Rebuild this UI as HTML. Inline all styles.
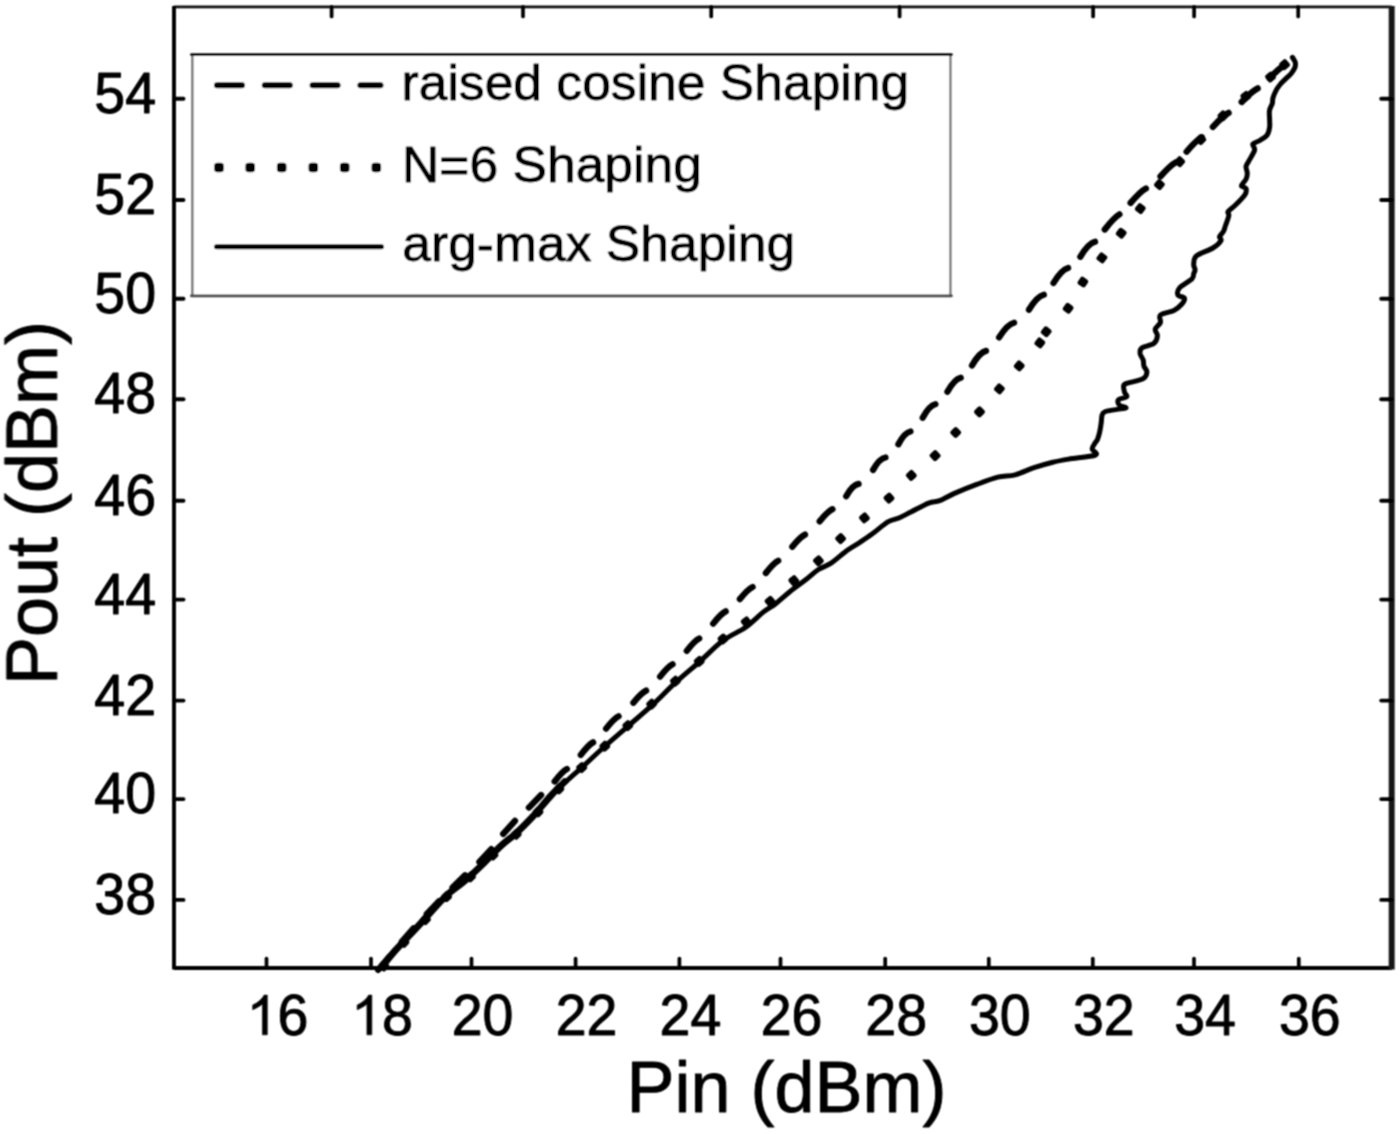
<!DOCTYPE html>
<html><head><meta charset="utf-8"><title>Pout vs Pin</title>
<style>html,body{margin:0;padding:0;background:#fff;overflow:hidden;}svg{display:block;}</style></head>
<body>
<svg width="1400" height="1134" viewBox="0 0 1400 1134">
<defs><filter id="bl" x="0" y="0" width="1400" height="1134" filterUnits="userSpaceOnUse"><feConvolveMatrix order="3" kernelMatrix="1 2 1 2 4 2 1 2 1" divisor="16" edgeMode="duplicate" preserveAlpha="false"/></filter></defs>
<rect width="1400" height="1134" fill="#fff"/>
<g filter="url(#bl)">
<path d="M382.0,968.0C384.3,965.2 391.3,956.3 396.0,951.0C400.7,945.7 405.2,941.2 410.0,936.0C414.8,930.8 419.0,926.5 425.0,920.0C431.0,913.5 439.6,903.3 446.2,897.0C452.8,890.7 458.5,887.5 464.7,882.2C470.9,876.9 477.0,871.0 483.2,865.0C489.4,859.0 496.1,851.5 501.7,846.4C507.2,841.2 511.1,839.0 516.5,834.1C521.9,829.2 527.9,823.1 533.8,816.8C539.6,810.5 546.2,802.0 551.6,796.2C557.0,790.4 560.9,786.7 565.9,781.9C570.9,777.1 575.4,773.4 581.7,767.6C588.1,761.8 596.3,753.9 604.0,747.0C611.7,740.1 619.9,733.2 627.8,726.3C635.7,719.4 643.7,713.0 651.6,705.7C659.5,698.4 667.5,690.0 675.4,682.7C683.3,675.4 691.3,669.1 699.2,662.1C707.1,655.1 715.3,646.4 723.0,640.6C730.7,634.8 738.8,632.2 745.4,627.5C752.0,622.8 757.9,616.4 762.9,612.4C767.9,608.4 771.1,607.2 775.6,603.7C780.1,600.2 784.8,595.7 789.8,591.7C794.8,587.7 800.9,583.5 805.7,579.8C810.5,576.1 814.2,572.3 818.4,569.5C822.6,566.7 826.3,566.4 831.1,563.2C835.9,560.0 842.2,554.0 847.0,550.5C851.8,547.0 855.5,545.3 859.7,542.5C863.9,539.7 867.7,537.2 872.4,533.8C877.1,530.4 883.5,524.5 887.9,521.9C892.3,519.3 895.0,519.7 898.9,518.0C902.8,516.3 906.4,514.2 911.4,511.7C916.4,509.2 924.0,504.9 928.7,503.1C933.4,501.3 935.5,502.3 939.7,500.7C943.9,499.1 947.6,496.4 953.9,493.6C960.2,490.9 970.1,486.9 977.4,484.2C984.7,481.4 991.6,478.7 997.9,477.1C1004.2,475.5 1009.1,476.4 1015.1,474.8C1021.1,473.2 1027.7,469.8 1034.0,467.7C1040.3,465.6 1047.0,463.6 1052.8,462.2C1058.6,460.8 1061.5,460.3 1068.6,459.1C1075.7,457.9 1091.4,456.8 1095.3,455.1C1099.2,453.4 1092.1,451.0 1092.1,448.9C1092.1,446.8 1094.4,444.2 1095.3,442.6C1096.2,441.0 1096.8,441.2 1097.5,439.4C1098.2,437.6 1099.1,434.6 1099.7,431.9C1100.3,429.1 1100.8,425.6 1101.2,422.9C1101.6,420.1 1101.4,417.3 1102.0,415.4C1102.6,413.5 1102.5,412.7 1105.0,411.7C1107.5,410.7 1113.5,410.0 1117.0,409.4C1120.5,408.8 1125.6,408.6 1126.0,407.9C1126.4,407.1 1120.5,406.3 1119.2,404.9C1118.0,403.5 1117.2,401.1 1118.5,399.7C1119.8,398.3 1125.7,397.9 1126.7,396.7C1127.7,395.4 1125.0,394.1 1124.5,392.2C1124.0,390.3 1123.2,386.9 1123.7,385.4C1124.2,383.9 1124.2,384.3 1127.5,383.2C1130.8,382.1 1140.0,380.6 1143.2,378.7C1146.4,376.8 1146.8,374.1 1146.9,372.0C1147.0,369.9 1144.5,368.0 1143.9,366.0C1143.3,364.0 1143.8,362.0 1143.2,360.0C1142.6,358.0 1140.5,356.0 1140.2,354.0C1140.0,352.0 1139.5,349.8 1141.7,348.0C1144.0,346.2 1151.1,345.5 1153.7,343.5C1156.3,341.5 1157.2,338.4 1157.4,336.0C1157.7,333.6 1154.7,331.4 1155.2,329.2C1155.7,326.9 1159.5,324.9 1160.4,322.5C1161.3,320.1 1158.2,317.0 1160.4,315.0C1162.7,313.0 1170.4,312.2 1173.9,310.5C1177.4,308.8 1179.6,306.5 1181.4,304.5C1183.2,302.5 1185.1,299.9 1184.5,298.3C1183.9,296.7 1178.7,296.8 1177.9,295.0C1177.1,293.2 1177.5,290.3 1179.8,287.7C1182.1,285.1 1189.5,281.4 1191.8,279.1C1194.1,276.8 1193.2,275.4 1193.7,273.8C1194.2,272.2 1195.1,271.4 1195.1,269.8C1195.1,268.2 1193.5,266.8 1193.7,264.5C1193.9,262.2 1193.2,258.6 1196.4,255.9C1199.6,253.2 1208.8,250.5 1212.9,248.0C1217.0,245.5 1219.8,242.6 1220.9,240.7C1222.0,238.8 1219.1,238.2 1219.5,236.7C1219.9,235.1 1222.5,233.3 1223.5,231.4C1224.5,229.5 1224.6,228.1 1225.5,225.5C1226.4,222.9 1228.4,217.9 1228.8,215.6C1229.2,213.3 1227.2,213.1 1228.1,211.6C1229.0,210.1 1231.3,209.1 1234.1,206.3C1236.9,203.6 1242.7,198.1 1244.7,195.1C1246.7,192.1 1246.5,189.9 1246.0,188.4C1245.5,186.9 1241.4,187.3 1241.4,185.8C1241.4,184.3 1245.0,181.3 1246.0,179.2C1247.0,177.1 1247.3,175.3 1247.3,173.2C1247.3,171.1 1245.8,168.6 1246.0,166.6C1246.2,164.6 1247.2,164.0 1248.6,161.3C1250.0,158.6 1253.9,153.1 1254.6,150.2C1255.3,147.3 1252.0,145.7 1252.9,144.1C1253.8,142.5 1257.6,142.0 1259.9,140.5C1262.2,139.0 1265.4,137.4 1267.0,135.2C1268.6,133.0 1269.2,129.9 1269.6,127.3C1270.0,124.7 1269.6,122.2 1269.6,119.4C1269.6,116.6 1269.0,113.2 1269.5,110.5C1270.0,107.8 1271.7,105.6 1272.3,103.5C1272.9,101.4 1272.3,100.1 1273.0,97.8C1273.7,95.5 1275.3,91.8 1276.6,89.4C1277.9,87.1 1279.2,85.6 1280.8,83.7C1282.4,81.8 1284.6,79.8 1286.4,78.1C1288.2,76.3 1290.0,75.0 1291.4,73.2C1292.8,71.4 1294.2,69.3 1294.9,67.5C1295.6,65.7 1295.5,64.0 1295.3,62.6C1295.1,61.2 1294.0,59.9 1293.5,59.0C1293.0,58.1 1292.6,57.6 1292.4,57.3" fill="none" stroke="#000" stroke-width="5.0" stroke-linejoin="round" stroke-linecap="round"/>
<path d="M380.7,966.7C383.0,963.9 390.0,955.0 394.7,949.7C399.4,944.4 403.9,939.9 408.7,934.7C413.5,929.5 417.7,925.2 423.7,918.7C429.7,912.2 438.3,902.0 444.9,895.7C451.5,889.4 457.2,886.2 463.4,880.9C469.6,875.6 475.7,869.7 481.9,863.7C488.1,857.7 494.8,850.2 500.4,845.1C505.9,840.0 509.9,837.7 515.2,832.8C520.6,827.9 526.6,821.8 532.5,815.5C538.4,809.2 545.0,800.7 550.3,794.9C555.7,789.1 562.2,783.0 564.6,780.6" fill="none" stroke="#000" stroke-width="5.0" stroke-linejoin="round" stroke-linecap="round"/>
<g fill="#000"><rect x="-4.5" y="-4.5" width="9.0" height="9.0" rx="2.2" transform="translate(383.7,966.0) rotate(-49.2)"/><rect x="-4.5" y="-4.5" width="9.0" height="9.0" rx="2.2" transform="translate(404.0,942.4) rotate(-48.0)"/><rect x="-4.5" y="-4.5" width="9.0" height="9.0" rx="2.2" transform="translate(425.4,919.6) rotate(-47.0)"/><rect x="-4.5" y="-4.5" width="9.0" height="9.0" rx="2.2" transform="translate(446.6,896.7) rotate(-43.5)"/><rect x="-4.5" y="-4.5" width="9.0" height="9.0" rx="2.2" transform="translate(470.5,876.8) rotate(-41.8)"/><rect x="-4.5" y="-4.5" width="9.0" height="9.0" rx="2.2" transform="translate(493.0,855.1) rotate(-42.9)"/><rect x="-4.5" y="-4.5" width="9.0" height="9.0" rx="2.2" transform="translate(516.2,834.3) rotate(-43.8)"/><rect x="-4.5" y="-4.5" width="9.0" height="9.0" rx="2.2" transform="translate(538.0,812.0) rotate(-46.8)"/><rect x="-4.5" y="-4.5" width="9.0" height="9.0" rx="2.2" transform="translate(558.9,788.9) rotate(-45.4)"/><rect x="-4.5" y="-4.5" width="9.0" height="9.0" rx="2.2" transform="translate(581.7,767.6) rotate(-42.9)"/><rect x="-4.5" y="-4.5" width="9.0" height="9.0" rx="2.2" transform="translate(604.8,746.2) rotate(-42.3)"/><rect x="-4.5" y="-4.5" width="9.0" height="9.0" rx="2.2" transform="translate(627.8,725.6) rotate(-42.0)"/><rect x="-4.5" y="-4.5" width="9.0" height="9.0" rx="2.2" transform="translate(651.6,704.1) rotate(-43.1)"/><rect x="-4.5" y="-4.5" width="9.0" height="9.0" rx="2.2" transform="translate(675.4,681.1) rotate(-42.0)"/><rect x="-4.5" y="-4.5" width="9.0" height="9.0" rx="2.2" transform="translate(699.2,661.3) rotate(-41.5)"/><rect x="-4.5" y="-4.5" width="9.0" height="9.0" rx="2.2" transform="translate(723.0,639.0) rotate(-40.0)"/><rect x="-4.5" y="-4.5" width="9.0" height="9.0" rx="2.2" transform="translate(746.2,621.9) rotate(-38.7)"/><rect x="-4.5" y="-4.5" width="9.0" height="9.0" rx="2.2" transform="translate(770.0,601.3) rotate(-40.9)"/><rect x="-4.5" y="-4.5" width="9.0" height="9.0" rx="2.2" transform="translate(793.8,580.6) rotate(-39.9)"/><rect x="-4.5" y="-4.5" width="9.0" height="9.0" rx="2.2" transform="translate(818.4,560.8) rotate(-41.9)"/><rect x="-4.5" y="-4.5" width="9.0" height="9.0" rx="2.2" transform="translate(840.6,538.6) rotate(-43.0)"/><rect x="-4.5" y="-4.5" width="9.0" height="9.0" rx="2.2" transform="translate(864.4,517.9) rotate(-39.9)"/><rect x="-4.5" y="-4.5" width="9.0" height="9.0" rx="2.2" transform="translate(889.0,498.1) rotate(-42.2)"/><rect x="-4.5" y="-4.5" width="9.0" height="9.0" rx="2.2" transform="translate(911.3,475.4) rotate(-42.7)"/><rect x="-4.5" y="-4.5" width="9.0" height="9.0" rx="2.2" transform="translate(935.1,455.6) rotate(-44.0)"/><rect x="-4.5" y="-4.5" width="9.0" height="9.0" rx="2.2" transform="translate(955.7,432.5) rotate(-44.5)"/><rect x="-4.5" y="-4.5" width="9.0" height="9.0" rx="2.2" transform="translate(979.5,411.9) rotate(-44.9)"/><rect x="-4.5" y="-4.5" width="9.0" height="9.0" rx="2.2" transform="translate(999.4,388.9) rotate(-49.2)"/><rect x="-4.5" y="-4.5" width="9.0" height="9.0" rx="2.2" transform="translate(1019.2,365.9) rotate(-48.7)"/><rect x="-4.5" y="-4.5" width="9.0" height="9.0" rx="2.2" transform="translate(1039.8,342.9) rotate(-51.7)"/><rect x="-4.5" y="-4.5" width="9.0" height="9.0" rx="2.2" transform="translate(1046.2,331.7) rotate(-50.7)"/><rect x="-4.5" y="-4.5" width="9.0" height="9.0" rx="2.2" transform="translate(1068.1,308.3) rotate(-53.5)"/><rect x="-4.5" y="-4.5" width="9.0" height="9.0" rx="2.2" transform="translate(1082.9,282.1) rotate(-56.2)"/><rect x="-4.5" y="-4.5" width="9.0" height="9.0" rx="2.2" transform="translate(1101.9,257.9) rotate(-51.9)"/><rect x="-4.5" y="-4.5" width="9.0" height="9.0" rx="2.2" transform="translate(1121.2,233.2) rotate(-52.1)"/><rect x="-4.5" y="-4.5" width="9.0" height="9.0" rx="2.2" transform="translate(1140.3,208.6) rotate(-51.8)"/><rect x="-4.5" y="-4.5" width="9.0" height="9.0" rx="2.2" transform="translate(1159.4,184.6) rotate(-50.0)"/><rect x="-4.5" y="-4.5" width="9.0" height="9.0" rx="2.2" transform="translate(1179.7,161.7) rotate(-47.4)"/><rect x="-4.5" y="-4.5" width="9.0" height="9.0" rx="2.2" transform="translate(1200.8,139.6) rotate(-46.7)"/><rect x="-4.5" y="-4.5" width="9.0" height="9.0" rx="2.2" transform="translate(1222.9,115.8) rotate(-43.8)"/><rect x="-4.5" y="-4.5" width="9.0" height="9.0" rx="2.2" transform="translate(1245.8,96.4) rotate(-39.2)"/><rect x="-4.5" y="-4.5" width="9.0" height="9.0" rx="2.2" transform="translate(1270.5,77.0) rotate(-39.2)"/><rect x="-4.5" y="-4.5" width="9.0" height="9.0" rx="2.2" transform="translate(1284.6,64.7) rotate(-41.1)"/></g>
<path d="M378.2,969.8Q386.4,960.2 389.5,956.5M401.9,941.5Q410.3,932.0 413.5,928.4M426.8,914.0Q435.5,904.9 438.8,901.4M452.6,887.6Q461.5,878.7 465.0,875.3M479.4,862.0Q487.9,852.8 491.3,849.2M503.2,833.8Q511.7,824.5 515.0,820.8M528.9,807.6Q537.7,798.5 541.1,795.0M554.7,781.5Q562.3,771.4 566.9,769.0M580.8,754.9Q588.5,744.8 593.1,742.4M606.1,728.6Q614.0,718.6 618.6,716.3M633.4,702.7Q641.4,692.8 646.1,690.6M660.1,676.6Q668.0,666.6 672.6,664.3M686.8,650.8Q694.5,640.8 699.2,638.5M713.2,623.6Q721.1,613.6 725.7,611.4M739.9,599.1Q747.9,589.2 752.6,587.0M765.9,573.0Q773.6,563.0 778.2,560.7M792.3,546.7Q800.3,536.8 805.0,534.6M819.7,521.3Q827.7,511.4 832.4,509.2M846.2,496.2Q852.6,484.8 858.6,483.9M873.1,469.9Q879.5,458.4 885.5,457.5M898.4,444.3Q904.5,432.6 910.5,431.5M922.7,417.7Q929.2,405.6 935.4,404.2M947.4,391.8Q954.4,379.2 960.7,377.8M972.0,365.5Q979.5,352.5 986.0,350.9M999.1,337.4Q1007.4,324.2 1014.1,322.7M1029.0,309.7Q1037.1,296.4 1043.8,294.8M1053.5,283.0Q1061.5,269.7 1068.1,268.0M1080.3,256.8Q1088.3,243.5 1095.0,241.8M1104.8,229.5Q1114.1,217.5 1119.4,214.4M1130.6,202.9Q1140.5,191.3 1145.9,188.5M1160.5,176.4Q1170.6,165.0 1176.0,162.2M1186.6,151.7Q1196.5,140.1 1201.9,137.3M1212.9,126.9Q1223.1,115.6 1228.6,112.9M1241.7,102.0Q1252.2,91.0 1257.7,88.4M1269.6,78.2Q1280.1,67.2 1285.6,64.6" fill="none" stroke="#000" stroke-width="6.3" stroke-linecap="round"/>
<line x1="174" y1="6.9" x2="1391.7" y2="6.9" stroke="#111" stroke-width="2.6"/>
<line x1="174" y1="968" x2="1391.7" y2="968" stroke="#000" stroke-width="4.0"/>
<line x1="174" y1="5.9" x2="174" y2="969.5" stroke="#000" stroke-width="3.9"/>
<line x1="1391.7" y1="5.9" x2="1391.7" y2="969.5" stroke="#181818" stroke-width="6.0"/>
<line x1="174" y1="98.7" x2="183.5" y2="98.7" stroke="#000" stroke-width="3.9" stroke-linecap="round"/>
<line x1="1391.7" y1="98.7" x2="1381.2" y2="98.7" stroke="#000" stroke-width="3.9" stroke-linecap="round"/>
<line x1="174" y1="200" x2="183.5" y2="200" stroke="#000" stroke-width="3.9" stroke-linecap="round"/>
<line x1="1391.7" y1="200" x2="1381.2" y2="200" stroke="#000" stroke-width="3.9" stroke-linecap="round"/>
<line x1="174" y1="298.7" x2="183.5" y2="298.7" stroke="#000" stroke-width="3.9" stroke-linecap="round"/>
<line x1="1391.7" y1="298.7" x2="1381.2" y2="298.7" stroke="#000" stroke-width="3.9" stroke-linecap="round"/>
<line x1="174" y1="399.3" x2="183.5" y2="399.3" stroke="#000" stroke-width="3.9" stroke-linecap="round"/>
<line x1="1391.7" y1="399.3" x2="1381.2" y2="399.3" stroke="#000" stroke-width="3.9" stroke-linecap="round"/>
<line x1="174" y1="500.7" x2="183.5" y2="500.7" stroke="#000" stroke-width="3.9" stroke-linecap="round"/>
<line x1="1391.7" y1="500.7" x2="1381.2" y2="500.7" stroke="#000" stroke-width="3.9" stroke-linecap="round"/>
<line x1="174" y1="599.6" x2="183.5" y2="599.6" stroke="#000" stroke-width="3.9" stroke-linecap="round"/>
<line x1="1391.7" y1="599.6" x2="1381.2" y2="599.6" stroke="#000" stroke-width="3.9" stroke-linecap="round"/>
<line x1="174" y1="700.6" x2="183.5" y2="700.6" stroke="#000" stroke-width="3.9" stroke-linecap="round"/>
<line x1="1391.7" y1="700.6" x2="1381.2" y2="700.6" stroke="#000" stroke-width="3.9" stroke-linecap="round"/>
<line x1="174" y1="799.1" x2="183.5" y2="799.1" stroke="#000" stroke-width="3.9" stroke-linecap="round"/>
<line x1="1391.7" y1="799.1" x2="1381.2" y2="799.1" stroke="#000" stroke-width="3.9" stroke-linecap="round"/>
<line x1="174" y1="899.9" x2="183.5" y2="899.9" stroke="#000" stroke-width="3.9" stroke-linecap="round"/>
<line x1="1391.7" y1="899.9" x2="1381.2" y2="899.9" stroke="#000" stroke-width="3.9" stroke-linecap="round"/>
<line x1="266.5" y1="968" x2="266.5" y2="958.5" stroke="#000" stroke-width="3.7" stroke-linecap="round"/>
<line x1="371" y1="968" x2="371" y2="958.5" stroke="#000" stroke-width="3.7" stroke-linecap="round"/>
<line x1="471.5" y1="968" x2="471.5" y2="958.5" stroke="#000" stroke-width="3.7" stroke-linecap="round"/>
<line x1="575.6" y1="968" x2="575.6" y2="958.5" stroke="#000" stroke-width="3.7" stroke-linecap="round"/>
<line x1="679.4" y1="968" x2="679.4" y2="958.5" stroke="#000" stroke-width="3.7" stroke-linecap="round"/>
<line x1="780.5" y1="968" x2="780.5" y2="958.5" stroke="#000" stroke-width="3.7" stroke-linecap="round"/>
<line x1="885.2" y1="968" x2="885.2" y2="958.5" stroke="#000" stroke-width="3.7" stroke-linecap="round"/>
<line x1="988.8" y1="968" x2="988.8" y2="958.5" stroke="#000" stroke-width="3.7" stroke-linecap="round"/>
<line x1="1092.8" y1="968" x2="1092.8" y2="958.5" stroke="#000" stroke-width="3.7" stroke-linecap="round"/>
<line x1="1194" y1="968" x2="1194" y2="958.5" stroke="#000" stroke-width="3.7" stroke-linecap="round"/>
<line x1="1298.8" y1="968" x2="1298.8" y2="958.5" stroke="#000" stroke-width="3.7" stroke-linecap="round"/>
<line x1="331.6" y1="6.9" x2="331.6" y2="16.4" stroke="#000" stroke-width="3.7" stroke-linecap="round"/>
<line x1="523" y1="6.9" x2="523" y2="16.4" stroke="#000" stroke-width="3.7" stroke-linecap="round"/>
<line x1="711.2" y1="6.9" x2="711.2" y2="16.4" stroke="#000" stroke-width="3.7" stroke-linecap="round"/>
<line x1="899.6" y1="6.9" x2="899.6" y2="16.4" stroke="#000" stroke-width="3.7" stroke-linecap="round"/>
<line x1="1093.1" y1="6.9" x2="1093.1" y2="16.4" stroke="#000" stroke-width="3.7" stroke-linecap="round"/>
<line x1="1194.1" y1="6.9" x2="1194.1" y2="16.4" stroke="#000" stroke-width="3.7" stroke-linecap="round"/>
<line x1="1298.2" y1="6.9" x2="1298.2" y2="16.4" stroke="#000" stroke-width="3.7" stroke-linecap="round"/>
<text transform="translate(156.0,112.8) scale(1,1.04)" font-size="55.5" text-anchor="end" font-family="Liberation Sans, sans-serif" stroke="#000" stroke-width="0.9" stroke-linejoin="round">54</text>
<text transform="translate(156.0,214.1) scale(1,1.04)" font-size="55.5" text-anchor="end" font-family="Liberation Sans, sans-serif" stroke="#000" stroke-width="0.9" stroke-linejoin="round">52</text>
<text transform="translate(156.0,312.8) scale(1,1.04)" font-size="55.5" text-anchor="end" font-family="Liberation Sans, sans-serif" stroke="#000" stroke-width="0.9" stroke-linejoin="round">50</text>
<text transform="translate(156.0,413.4) scale(1,1.04)" font-size="55.5" text-anchor="end" font-family="Liberation Sans, sans-serif" stroke="#000" stroke-width="0.9" stroke-linejoin="round">48</text>
<text transform="translate(156.0,514.8) scale(1,1.04)" font-size="55.5" text-anchor="end" font-family="Liberation Sans, sans-serif" stroke="#000" stroke-width="0.9" stroke-linejoin="round">46</text>
<text transform="translate(156.0,613.7) scale(1,1.04)" font-size="55.5" text-anchor="end" font-family="Liberation Sans, sans-serif" stroke="#000" stroke-width="0.9" stroke-linejoin="round">44</text>
<text transform="translate(156.0,714.7) scale(1,1.04)" font-size="55.5" text-anchor="end" font-family="Liberation Sans, sans-serif" stroke="#000" stroke-width="0.9" stroke-linejoin="round">42</text>
<text transform="translate(156.0,813.2) scale(1,1.04)" font-size="55.5" text-anchor="end" font-family="Liberation Sans, sans-serif" stroke="#000" stroke-width="0.9" stroke-linejoin="round">40</text>
<text transform="translate(156.0,914.0) scale(1,1.04)" font-size="55.5" text-anchor="end" font-family="Liberation Sans, sans-serif" stroke="#000" stroke-width="0.9" stroke-linejoin="round">38</text>
<path d="M583,0H763V1409H647Q600,1318 487,1221Q374,1124 223,1055V888Q307,918 412,978Q518,1037 583,1096Z" transform="translate(246.63,1034.8) scale(0.02710,-0.02818)" fill="#000" stroke="#000" stroke-width="22.1" stroke-linejoin="round"/>
<text transform="translate(277.5,1034.8) scale(1,1.04)" font-size="55.5" font-family="Liberation Sans, sans-serif" stroke="#000" stroke-width="0.9" stroke-linejoin="round">6</text>
<path d="M583,0H763V1409H647Q600,1318 487,1221Q374,1124 223,1055V888Q307,918 412,978Q518,1037 583,1096Z" transform="translate(351.13,1034.8) scale(0.02710,-0.02818)" fill="#000" stroke="#000" stroke-width="22.1" stroke-linejoin="round"/>
<text transform="translate(382.0,1034.8) scale(1,1.04)" font-size="55.5" font-family="Liberation Sans, sans-serif" stroke="#000" stroke-width="0.9" stroke-linejoin="round">8</text>
<text transform="translate(482.5,1034.8) scale(1,1.04)" font-size="55.5" text-anchor="middle" font-family="Liberation Sans, sans-serif" stroke="#000" stroke-width="0.9" stroke-linejoin="round">20</text>
<text transform="translate(586.6,1034.8) scale(1,1.04)" font-size="55.5" text-anchor="middle" font-family="Liberation Sans, sans-serif" stroke="#000" stroke-width="0.9" stroke-linejoin="round">22</text>
<text transform="translate(690.4,1034.8) scale(1,1.04)" font-size="55.5" text-anchor="middle" font-family="Liberation Sans, sans-serif" stroke="#000" stroke-width="0.9" stroke-linejoin="round">24</text>
<text transform="translate(791.5,1034.8) scale(1,1.04)" font-size="55.5" text-anchor="middle" font-family="Liberation Sans, sans-serif" stroke="#000" stroke-width="0.9" stroke-linejoin="round">26</text>
<text transform="translate(896.2,1034.8) scale(1,1.04)" font-size="55.5" text-anchor="middle" font-family="Liberation Sans, sans-serif" stroke="#000" stroke-width="0.9" stroke-linejoin="round">28</text>
<text transform="translate(999.8,1034.8) scale(1,1.04)" font-size="55.5" text-anchor="middle" font-family="Liberation Sans, sans-serif" stroke="#000" stroke-width="0.9" stroke-linejoin="round">30</text>
<text transform="translate(1103.8,1034.8) scale(1,1.04)" font-size="55.5" text-anchor="middle" font-family="Liberation Sans, sans-serif" stroke="#000" stroke-width="0.9" stroke-linejoin="round">32</text>
<text transform="translate(1205.0,1034.8) scale(1,1.04)" font-size="55.5" text-anchor="middle" font-family="Liberation Sans, sans-serif" stroke="#000" stroke-width="0.9" stroke-linejoin="round">34</text>
<text transform="translate(1309.8,1034.8) scale(1,1.04)" font-size="55.5" text-anchor="middle" font-family="Liberation Sans, sans-serif" stroke="#000" stroke-width="0.9" stroke-linejoin="round">36</text>
<text transform="translate(786.5,1111.8) scale(1,1.005)" font-size="72" text-anchor="middle" font-family="Liberation Sans, sans-serif" stroke="#000" stroke-width="0.9" stroke-linejoin="round">Pin (dBm)</text>
<text transform="translate(56.4,503.0) rotate(-90) scale(1,0.995)" font-size="72" text-anchor="middle" font-family="Liberation Sans, sans-serif" stroke="#000" stroke-width="0.9" stroke-linejoin="round">Pout (dBm)</text>
<rect x="192.4" y="54.6" width="758.0" height="241.29999999999998" fill="#fff" stroke="none"/>
<line x1="192.4" y1="54.6" x2="192.4" y2="295.9" stroke="#777" stroke-width="2.4"/>
<line x1="950.4" y1="54.6" x2="950.4" y2="295.9" stroke="#7a7a7a" stroke-width="2.4"/>
<line x1="191.4" y1="54.6" x2="951.4" y2="54.6" stroke="#111" stroke-width="2.8" stroke-linecap="round"/>
<line x1="191.4" y1="295.9" x2="951.4" y2="295.9" stroke="#4a4a4a" stroke-width="2.8" stroke-linecap="round"/>
<line x1="217" y1="85.3" x2="380.5" y2="85.3" stroke="#000" stroke-width="6.1" stroke-dasharray="25 22.8" stroke-linecap="round"/>
<rect x="214.2" y="162.7" width="9.6" height="9.6" rx="3.2" fill="#000"/>
<rect x="245.4" y="162.7" width="9.6" height="9.6" rx="3.2" fill="#000"/>
<rect x="276.9" y="162.7" width="9.6" height="9.6" rx="3.2" fill="#000"/>
<rect x="308.5" y="162.7" width="9.6" height="9.6" rx="3.2" fill="#000"/>
<rect x="339.9" y="162.7" width="9.6" height="9.6" rx="3.2" fill="#000"/>
<rect x="371.5" y="162.7" width="9.6" height="9.6" rx="3.2" fill="#000"/>
<line x1="216.5" y1="246.8" x2="381.5" y2="246.8" stroke="#000" stroke-width="5.0" stroke-linecap="round"/>
<text transform="translate(401.5,99.6) scale(1,0.97)" font-size="51.6" font-family="Liberation Sans, sans-serif" stroke="#000" stroke-width="0.9" stroke-linejoin="round">raised cosine Shaping</text>
<text transform="translate(402.1,182.0) scale(1,0.97)" font-size="51.6" font-family="Liberation Sans, sans-serif" stroke="#000" stroke-width="0.9" stroke-linejoin="round">N=6 Shaping</text>
<text transform="translate(402.3,260.9) scale(1,0.97)" font-size="51.6" font-family="Liberation Sans, sans-serif" stroke="#000" stroke-width="0.9" stroke-linejoin="round">arg-max Shaping</text>
</g>
</svg>
</body></html>
